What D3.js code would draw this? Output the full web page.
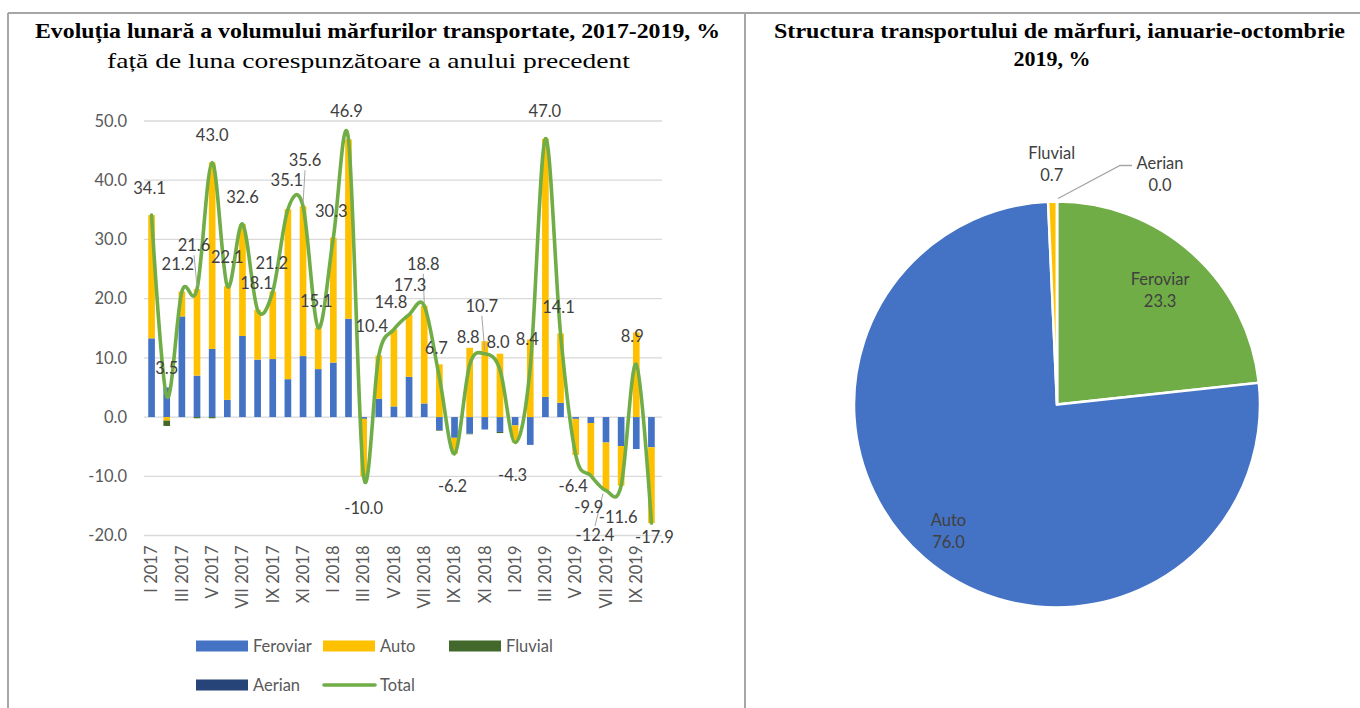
<!DOCTYPE html>
<html>
<head>
<meta charset="utf-8">
<script src="https://cdn.jsdelivr.net/npm/d3@7"></script>
<style>
  body { margin: 0; background: #fff; }
  svg { display: block; }
</style>
</head>
<body>
<div id="chart"></div>
<script>
// data
const months = ["I 2017","II 2017","III 2017","IV 2017","V 2017","VI 2017","VII 2017","VIII 2017","IX 2017","X 2017","XI 2017","XII 2017",
                "I 2018","II 2018","III 2018","IV 2018","V 2018","VI 2018","VII 2018","VIII 2018","IX 2018","X 2018","XI 2018","XII 2018",
                "I 2019","II 2019","III 2019","IV 2019","V 2019","VI 2019","VII 2019","VIII 2019","IX 2019","X 2019"]
const feroviar = [13.3, 5.0, 17.0, 7.0, 11.5, 2.9, 13.7, 9.7, 9.8, 6.4, 10.3, 8.1,
                  9.2, 16.6, -0.3, 3.1, 1.8, 6.8, 2.3, -2.2, -3.5, -2.8, -2.1, -2.5,
                  -1.4, -4.7, 3.4, 2.4, -0.3, -1.0, -4.3, -4.9, -5.4, -5.1]
const auto = [20.8, -0.6, 4.2, 14.6, 31.5, 19.2, 18.9, 8.4, 11.4, 28.7, 25.3, 7.0,
              21.1, 30.3, -9.7, 7.3, 13.0, 10.5, 16.5, 8.9, -2.7, 11.7, 12.8, 10.7,
              -2.9, 13.1, 43.6, 11.7, -6.1, -8.9, -8.1, -6.7, 14.3, -12.8]
const fluvial = [0, -0.9, 0, -0.2, -0.2, 0, 0, 0, 0, 0, 0, 0,
                 0, 0, 0, 0, 0, 0, 0, -0.1, 0, -0.1, 0, -0.2,
                 0, 0, 0, 0, 0, 0, 0, 0, 0, 0]
const aerian = [0, 0, 0, 0, 0, 0, 0, 0, 0, 0, 0, 0,
                0, 0, 0, 0, 0, 0, 0, 0, 0, 0, 0, 0,
                0, 0, 0, 0, 0, 0, 0, 0, 0, 0]
const total = [34.1, 3.5, 21.2, 21.6, 43.0, 22.1, 32.6, 18.1, 21.2, 35.1, 35.6, 15.1,
               30.3, 46.9, -10.0, 10.4, 14.8, 17.3, 18.8, 6.7, -6.2, 8.8, 10.7, 8.0,
               -4.3, 8.4, 47.0, 14.1, -6.4, -9.9, -12.4, -11.6, 8.9, -17.9]
const yTicks = [-20, -10, 0, 10, 20, 30, 40, 50]
const seriesNames = ["Feroviar", "Auto", "Fluvial", "Aerian"]

const pieNames = ["Feroviar", "Auto", "Fluvial", "Aerian"]
const pieValues = [23.3, 76.0, 0.7, 0.0]

// label nudges (px) relative to each point of the Total line
const labelDx = [-2, 0, -4, -3, 0, 0, 0, -1, -1, -1, 2, -2,
                 -2, -2, 0, -7, -3, 1, -1, -3, -2, -1.5, -3, -2,
                 -2.5, -3, -0.5, -2, -2.5, -2, -11, -3, -4, 3]
const labelDy = [-27, -28, -28, -44, -27, -29, -27, -27, -29, -29, -46, -27,
                 -27, -28, 32, -29, -27, -30, -42, -29, 32, -28, -48, -28,
                 32, -28, -28, -27, 31, 31, 44.5, 31, -28, 13.5]
const leaderIdx = [3, 10, 18, 22, 30]

const colors = {Feroviar: "#4472C4", Auto: "#FFC000", Fluvial: "#43682B", Aerian: "#264478"}
const pieColors = {Feroviar: "#70AD47", Auto: "#4472C4", Fluvial: "#FFC000", Aerian: "#A5A5A5"}
const lineColor = "#70AD47"
const font = "Lato, 'Open Sans', sans-serif"
const fs = "16.5px"

const svgWidth = 1360
const svgHeight = 708

const svg = d3.select("#chart").append("svg")
    .attr("width", svgWidth)
    .attr("height", svgHeight)

// table borders
const border = svg.append("g").attr("stroke", "#a6a6a6").attr("stroke-width", 2)
border.append("line").attr("x1", 8).attr("x2", svgWidth).attr("y1", 13).attr("y2", 13)
border.append("line").attr("x1", 8).attr("x2", 8).attr("y1", 13).attr("y2", svgHeight)
border.append("line").attr("x1", 745).attr("x2", 745).attr("y1", 13).attr("y2", svgHeight)

// titles
const titleFont = "'Liberation Serif', 'Times New Roman', serif"
svg.append("text").attr("x", 377.5).attr("y", 38).attr("text-anchor", "middle")
    .style("font-family", titleFont).style("font-weight", "bold").style("font-size", "22px")
    .attr("textLength", 685).attr("lengthAdjust", "spacingAndGlyphs")
    .text("Evoluția lunară a volumului mărfurilor transportate, 2017-2019, %")
svg.append("text").attr("x", 368.5).attr("y", 68).attr("text-anchor", "middle")
    .style("font-family", titleFont).style("font-size", "22px")
    .attr("textLength", 523).attr("lengthAdjust", "spacingAndGlyphs")
    .text("față de luna corespunzătoare a anului precedent")
svg.append("text").attr("x", 1059.5).attr("y", 38).attr("text-anchor", "middle")
    .style("font-family", titleFont).style("font-weight", "bold").style("font-size", "22px")
    .attr("textLength", 571).attr("lengthAdjust", "spacingAndGlyphs")
    .text("Structura transportului de mărfuri, ianuarie-octombrie")
svg.append("text").attr("x", 1052).attr("y", 66).attr("text-anchor", "middle")
    .style("font-family", titleFont).style("font-weight", "bold").style("font-size", "22px")
    .text("2019, %")

// ---------- stacked bars + total line ----------
const x = d3.scaleBand().domain(months).range([144, 659]).paddingInner(0.56).paddingOuter(0.28)
const y = d3.scaleLinear().domain([-20, 50]).range([535.5, 121])
const cx = i => x(months[i]) + x.bandwidth() / 2

// gridlines
svg.append("g").selectAll("line")
    .data(yTicks)
    .enter().append("line")
    .attr("x1", 144).attr("x2", 662)
    .attr("y1", d => y(d)).attr("y2", d => y(d))
    .attr("stroke", "#d9d9d9").attr("stroke-width", 1.3)

const yAxis = svg.append("g")
    .attr("transform", "translate(144,0)")
    .call(d3.axisLeft(y).tickValues(yTicks).tickFormat(d => d.toFixed(1)).tickSize(0).tickPadding(17))
yAxis.select(".domain").remove()
yAxis.selectAll("text").style("font-family", font).style("font-size", fs).attr("fill", "#595959")

const xAxis = svg.append("g")
    .attr("transform", `translate(0,${y(-20)})`)
    .call(d3.axisBottom(x).tickValues(months.filter((m, i) => i % 2 === 0)).tickSize(0))
xAxis.select(".domain").remove()
xAxis.selectAll("text")
    .attr("transform", "rotate(-90)")
    .attr("x", -10).attr("y", 0).attr("dy", "0.35em")
    .style("text-anchor", "end")
    .style("font-family", font).style("font-size", fs).attr("fill", "#595959")

const rows = months.map((m, i) => ({month: m, Feroviar: feroviar[i], Auto: auto[i], Fluvial: fluvial[i], Aerian: aerian[i]}))
const stacked = d3.stack().keys(seriesNames).offset(d3.stackOffsetDiverging)(rows)

svg.append("g").selectAll("g")
    .data(stacked)
    .enter().append("g")
    .attr("fill", d => colors[d.key])
    .selectAll("rect")
    .data(d => d)
    .enter().append("rect")
    .attr("x", d => x(d.data.month))
    .attr("width", x.bandwidth())
    .attr("y", d => y(Math.max(d[0], d[1])))
    .attr("height", d => Math.abs(y(d[0]) - y(d[1])))

const totalLine = d3.line()
    .x((d, i) => cx(i))
    .y(d => y(d))
    .curve(d3.curveCardinal.tension(0))

svg.append("path")
    .datum(total)
    .attr("d", totalLine)
    .attr("fill", "none")
    .attr("stroke", lineColor)
    .attr("stroke-width", 3.6)
    .attr("stroke-linejoin", "round")
    .attr("stroke-linecap", "round")

// leader lines for moved labels
svg.append("g").selectAll("line")
    .data(leaderIdx)
    .enter().append("line")
    .attr("x1", i => cx(i) + labelDx[i])
    .attr("y1", i => y(total[i]) + labelDy[i] + (total[i] < 0 ? -9 : 10))
    .attr("x2", i => cx(i) - (total[i] < 0 ? 3 : 0))
    .attr("y2", i => y(total[i]) + (total[i] < 0 ? 3 : -3))
    .attr("stroke", "#a6a6a6").attr("stroke-width", 1)

svg.append("g").selectAll("text")
    .data(total)
    .enter().append("text")
    .attr("x", (d, i) => cx(i) + labelDx[i])
    .attr("y", (d, i) => y(d) + labelDy[i])
    .attr("text-anchor", "middle")
    .attr("dominant-baseline", "central")
    .style("font-family", font).style("font-size", fs)
    .attr("fill", "#404040")
    .text(d => d.toFixed(1))

// legend
const legendItems = seriesNames.concat(["Total"])
const legendCols = [196, 323, 449]
const legend = svg.append("g").selectAll("g")
    .data(legendItems)
    .enter().append("g")
    .attr("transform", (d, i) => `translate(${legendCols[i % 3]},${646 + Math.floor(i / 3) * 39})`)
legend.each(function (d) {
    const g = d3.select(this)
    if (d === "Total") {
        g.append("line").attr("x1", 1).attr("x2", 52).attr("y1", 0).attr("y2", 0)
            .attr("stroke", lineColor).attr("stroke-width", 3.6).attr("stroke-linecap", "round")
    } else {
        g.append("rect").attr("x", 0).attr("y", -5.5).attr("width", 52).attr("height", 11)
            .attr("fill", colors[d])
    }
    g.append("text").attr("x", 57).attr("y", 0).attr("dominant-baseline", "central")
        .style("font-family", font).style("font-size", fs).attr("fill", "#595959")
        .text(d)
})

// ---------- pie ----------
const pcx = 1057, pcy = 404.5, r = 203
const pieData = d3.pie().sort(null).value(d => d.value)(pieNames.map((n, i) => ({name: n, value: pieValues[i]})))
const arc = d3.arc().innerRadius(0).outerRadius(r)
const pieG = svg.append("g").attr("transform", `translate(${pcx},${pcy})`)

pieG.selectAll("path")
    .data(pieData)
    .enter().append("path")
    .attr("d", arc)
    .attr("fill", d => pieColors[d.data.name])
    .attr("stroke", "#fff")
    .attr("stroke-width", 2.5)

const labelRadius = {Feroviar: r * 0.76, Auto: r * 0.82, Fluvial: r + 38, Aerian: r}
const labelPos = d => {
    const a = (d.startAngle + d.endAngle) / 2
    let px = Math.sin(a) * labelRadius[d.data.name]
    let py = -Math.cos(a) * labelRadius[d.data.name]
    if (d.data.name === "Aerian") { px += 103; py += -28 }
    return [px, py]
}

// leader for Aerian
const aer = pieData.find(d => d.data.name === "Aerian")
const aerPos = labelPos(aer)
pieG.append("polyline")
    .attr("points", [[Math.sin(aer.startAngle) * r + 1, -Math.cos(aer.startAngle) * r - 3],
                     [aerPos[0] - 40, aerPos[1] - 8], [aerPos[0] - 28, aerPos[1] - 8]].map(p => p.join(",")).join(" "))
    .attr("fill", "none").attr("stroke", "#a6a6a6").attr("stroke-width", 1.3)

const pieLabels = pieG.selectAll("g.lbl")
    .data(pieData)
    .enter().append("g")
    .attr("class", "lbl")
    .attr("transform", d => `translate(${labelPos(d)})`)
pieLabels.append("text").attr("y", -11).attr("text-anchor", "middle").attr("dominant-baseline", "central")
    .style("font-family", font).style("font-size", fs).attr("fill", "#404040")
    .text(d => d.data.name)
pieLabels.append("text").attr("y", 11).attr("text-anchor", "middle").attr("dominant-baseline", "central")
    .style("font-family", font).style("font-size", fs).attr("fill", "#404040")
    .text(d => d.data.value.toFixed(1))
</script>
</body>
</html>
